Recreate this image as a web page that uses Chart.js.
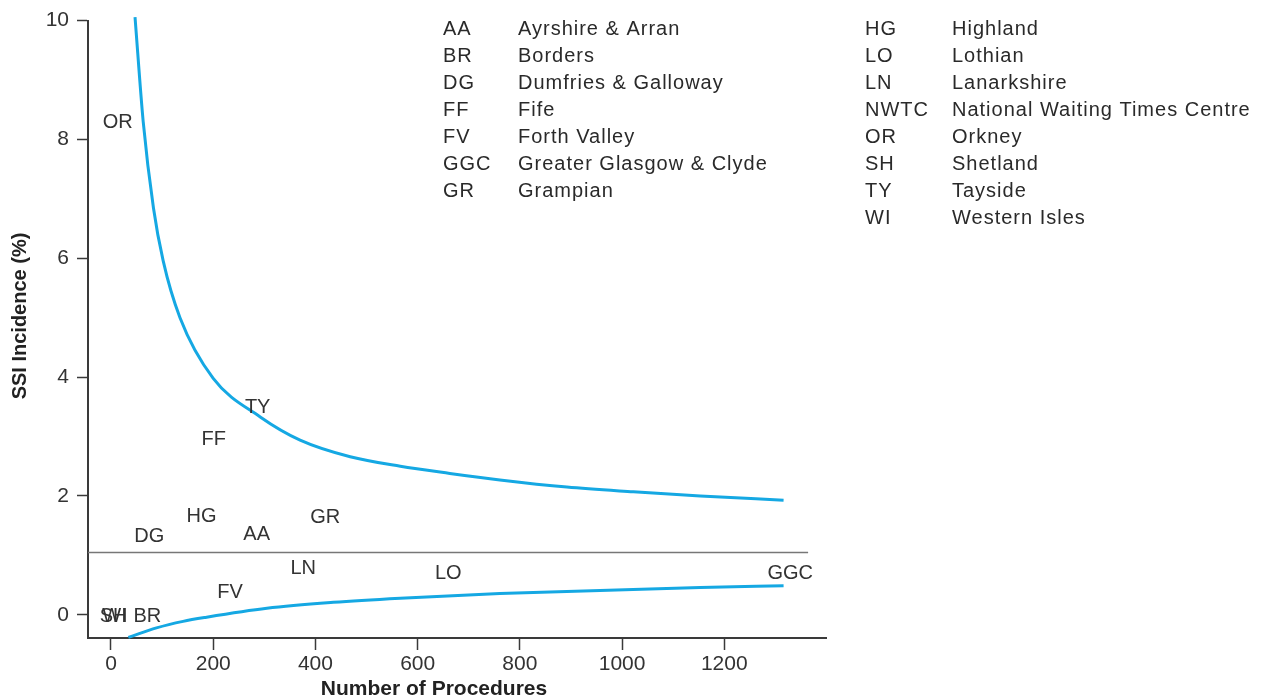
<!DOCTYPE html>
<html>
<head>
<meta charset="utf-8">
<title>SSI Incidence funnel plot</title>
<script src="https://cdn.jsdelivr.net/npm/chart.js@4"></script>
<style>
  html, body { margin: 0; padding: 0; background: #ffffff; }
  canvas { display: block; }
</style>
</head>
<body>
<canvas id="funnel" width="1263" height="700"></canvas>
<script>
// Health board codes plotted at (procedures, SSI %)
const boardCodes = ['OR', 'TY', 'FF', 'HG', 'DG', 'AA', 'GR', 'LN', 'LO', 'GGC', 'FV', 'SH', 'WI', 'BR'];
const boardProcedures = [13, 287, 201, 177, 75, 285, 419, 376, 660, 1329, 233, 5, 7, 71];
const boardIncidence = [8.32, 3.51, 2.98, 1.69, 1.35, 1.38, 1.66, 0.80, 0.73, 0.72, 0.41, 0.0, 0.0, 0.0];

// Upper control limit
const upperN = [47, 63, 83, 102, 135, 200, 292, 370, 468, 566, 663, 761, 892, 1022, 1153, 1316];
const upperPct = [10.06, 8.3, 6.85, 5.96, 5.0, 3.98, 3.33, 2.94, 2.66, 2.50, 2.38, 2.27, 2.15, 2.07, 2.0, 1.93];

// Lower control limit
const lowerN = [34, 89, 141, 187, 305, 435, 566, 761, 957, 1153, 1316];
const lowerPct = [-0.38, -0.22, -0.11, -0.04, 0.11, 0.21, 0.28, 0.36, 0.41, 0.46, 0.49];

// Overall mean incidence
const meanN = [-45, 1364];
const meanPct = [1.05, 1.05];

// Axis ticks
const xTicks = [0, 200, 400, 600, 800, 1000, 1200];
const yTicks = [0, 2, 4, 6, 8, 10];

// Key of board codes
const keyLeftCodes = ['AA', 'BR', 'DG', 'FF', 'FV', 'GGC', 'GR'];
const keyLeftNames = ['Ayrshire & Arran', 'Borders', 'Dumfries & Galloway', 'Fife', 'Forth Valley', 'Greater Glasgow & Clyde', 'Grampian'];
const keyRightCodes = ['HG', 'LO', 'LN', 'NWTC', 'OR', 'SH', 'TY', 'WI'];
const keyRightNames = ['Highland', 'Lothian', 'Lanarkshire', 'National Waiting Times Centre', 'Orkney', 'Shetland', 'Tayside', 'Western Isles'];

const FONT = '"Liberation Sans", Arial, Helvetica, sans-serif';
const toPoints = (xs, ys) => xs.map((x, i) => ({ x: x, y: ys[i] }));

const whiteBackground = {
  id: 'whiteBackground',
  beforeDraw(chart) {
    const c = chart.ctx;
    c.save();
    c.fillStyle = '#ffffff';
    c.fillRect(0, 0, chart.width, chart.height);
    c.restore();
  }
};

const annotations = {
  id: 'annotations',
  afterDatasetsDraw(chart) {
    const c = chart.ctx;
    const xs = chart.scales.x;
    const ys = chart.scales.y;
    c.save();
    // board codes at their points
    c.fillStyle = '#333333';
    c.font = '20px ' + FONT;
    c.textAlign = 'center';
    c.textBaseline = 'alphabetic';
    boardCodes.forEach((code, i) => {
      const px = xs.getPixelForValue(boardProcedures[i]);
      const py = ys.getPixelForValue(boardIncidence[i]);
      c.fillText(code, px, py + 7.2);
    });
    c.restore();
  },
  afterDraw(chart) {
    const c = chart.ctx;
    const area = chart.chartArea;
    c.save();
    // axis titles
    c.fillStyle = '#222222';
    c.textAlign = 'center';
    c.textBaseline = 'middle';
    c.font = 'bold 21px ' + FONT;
    c.fillText('Number of Procedures', area.left + 346, 689);
    c.font = 'bold 20px ' + FONT;
    c.save();
    c.translate(20, 316);
    c.rotate(-Math.PI / 2);
    c.fillText('SSI Incidence (%)', 0, 0);
    c.restore();

    // key
    c.fillStyle = '#2a2a2a';
    c.font = '20px ' + FONT;
    c.textAlign = 'left';
    c.textBaseline = 'alphabetic';
    c.letterSpacing = '1px';
    const row0 = 35, rowStep = 27;
    const drawColumn = (codes, names, codeX, nameX) => {
      codes.forEach((code, i) => {
        const y = row0 + i * rowStep;
        c.fillText(code, codeX, y);
        c.fillText(names[i], nameX, y);
      });
    };
    drawColumn(keyLeftCodes, keyLeftNames, 443, 518);
    drawColumn(keyRightCodes, keyRightNames, 865, 952);
    c.letterSpacing = '0px';
    c.restore();
  }
};

const axisColor = '#3a3a3a';

new Chart(document.getElementById('funnel'), {
  type: 'scatter',
  data: {
    datasets: [
      {
        label: 'Upper limit',
        type: 'line',
        data: toPoints(upperN, upperPct),
        borderColor: '#15a8e3',
        borderWidth: 3,
        pointRadius: 0,
        cubicInterpolationMode: 'monotone',
        fill: false,
        clip: false
      },
      {
        label: 'Lower limit',
        type: 'line',
        data: toPoints(lowerN, lowerPct),
        borderColor: '#15a8e3',
        borderWidth: 3,
        pointRadius: 0,
        cubicInterpolationMode: 'monotone',
        fill: false,
        clip: false
      },
      {
        label: 'Mean',
        type: 'line',
        data: toPoints(meanN, meanPct),
        borderColor: '#777777',
        borderWidth: 1.5,
        pointRadius: 0,
        fill: false
      },
      {
        label: 'Boards',
        data: toPoints(boardProcedures, boardIncidence),
        pointRadius: 0,
        showLine: false
      }
    ]
  },
  options: {
    responsive: false,
    animation: false,
    devicePixelRatio: 1,
    layout: { padding: { top: 19, right: 437, left: 0, bottom: 0 } },
    plugins: {
      legend: { display: false },
      tooltip: { enabled: false },
      title: { display: false }
    },
    scales: {
      x: {
        type: 'linear',
        min: -45,
        max: 1399,
        afterBuildTicks: s => { s.ticks = xTicks.map(v => ({ value: v })); },
        afterFit: s => { s.height = 62; },
        ticks: {
          color: '#333333',
          font: { family: FONT, size: 21 },
          padding: 2,
          maxRotation: 0,
          callback: v => String(v)
        },
        grid: {
          display: true,
          drawOnChartArea: false,
          drawTicks: true,
          tickLength: 12,
          tickColor: axisColor,
          tickWidth: 1.5
        },
        border: { display: true, color: axisColor, width: 2 }
      },
      y: {
        type: 'linear',
        min: -0.39,
        max: 10,
        afterBuildTicks: s => { s.ticks = yTicks.map(v => ({ value: v })); },
        afterFit: s => { s.width = 88; },
        ticks: {
          color: '#333333',
          font: { family: FONT, size: 21 },
          padding: 8,
          callback: v => String(v)
        },
        grid: {
          display: true,
          drawOnChartArea: false,
          drawTicks: true,
          tickLength: 11,
          tickColor: axisColor,
          tickWidth: 1.5
        },
        border: { display: true, color: axisColor, width: 2 }
      }
    }
  },
  plugins: [whiteBackground, annotations]
});
</script>
</body>
</html>
